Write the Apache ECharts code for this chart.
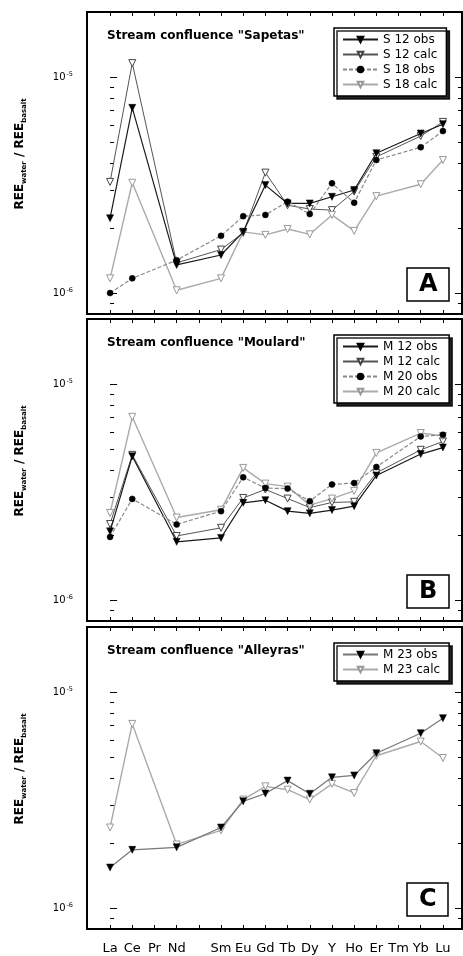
<!DOCTYPE html>
<html><head><meta charset="utf-8">
<script src="https://cdn.jsdelivr.net/npm/echarts@6/dist/echarts.min.js"></script>
<style>html,body{margin:0;padding:0;background:#fff}#c{width:463px;height:956px}</style>
</head><body><div id="c"></div>
<script>
const FONT = 'DejaVu Sans';
// x positions: index in this list (Pm is an unlabeled gap)
const elements = ['La','Ce','Pr','Nd','Pm','Sm','Eu','Gd','Tb','Dy','Y','Ho','Er','Tm','Yb','Lu'];
const hiddenLabels = ['Pm'];
const majorTicks = [1e-6, 1e-5];
const minorTicks = [9e-7, 2e-6, 3e-6, 4e-6, 5e-6, 6e-6, 7e-6, 8e-6, 9e-6, 2e-5];

// Panel A – Sapetas
const s12obs  = [2.22e-6, 7.2e-6, null, 1.35e-6, null, 1.50e-6, 1.92e-6, 3.16e-6, 2.60e-6, 2.60e-6, 2.79e-6, 3.0e-6, 4.44e-6, null, 5.48e-6, 6.05e-6];
const s12calc = [3.27e-6, 1.16e-5, null, 1.38e-6, null, 1.59e-6, 1.90e-6, 3.61e-6, 2.55e-6, 2.45e-6, 2.42e-6, 2.95e-6, 4.27e-6, null, 5.33e-6, 6.2e-6];
const s18obs  = [1.0e-6, 1.17e-6, null, 1.42e-6, null, 1.84e-6, 2.27e-6, 2.30e-6, 2.65e-6, 2.32e-6, 3.22e-6, 2.62e-6, 4.13e-6, null, 4.73e-6, 5.62e-6];
const s18calc = [1.17e-6, 3.24e-6, null, 1.03e-6, null, 1.17e-6, 1.92e-6, 1.86e-6, 1.98e-6, 1.87e-6, 2.30e-6, 1.94e-6, 2.81e-6, null, 3.19e-6, 4.13e-6];
// Panel B – Moulard
const m12obs  = [2.08e-6, 4.63e-6, null, 1.86e-6, null, 1.94e-6, 2.82e-6, 2.90e-6, 2.58e-6, 2.52e-6, 2.61e-6, 2.72e-6, 3.77e-6, null, 4.74e-6, 5.08e-6];
const m12calc = [2.25e-6, 4.7e-6, null, 1.98e-6, null, 2.16e-6, 2.97e-6, 3.25e-6, 2.95e-6, 2.68e-6, 2.83e-6, 2.85e-6, 3.88e-6, null, 4.96e-6, 5.42e-6];
const m20obs  = [1.96e-6, 2.94e-6, null, 2.24e-6, null, 2.58e-6, 3.70e-6, 3.30e-6, 3.28e-6, 2.87e-6, 3.43e-6, 3.48e-6, 4.13e-6, null, 5.72e-6, 5.82e-6];
const m20calc = [2.53e-6, 7.05e-6, null, 2.41e-6, null, 2.62e-6, 4.09e-6, 3.46e-6, 3.35e-6, 2.75e-6, 2.95e-6, 3.2e-6, 4.80e-6, null, 5.93e-6, 5.75e-6];
// Panel C – Alleyras
const m23obs  = [1.54e-6, 1.86e-6, null, 1.91e-6, null, 2.36e-6, 3.12e-6, 3.39e-6, 3.89e-6, 3.38e-6, 4.03e-6, 4.11e-6, 5.21e-6, null, 6.45e-6, 7.57e-6];
const m23calc = [2.36e-6, 7.12e-6, null, 1.97e-6, null, 2.29e-6, 3.18e-6, 3.66e-6, 3.53e-6, 3.18e-6, 3.76e-6, 3.41e-6, 5.07e-6, null, 5.90e-6, 4.95e-6];

const panelTitles = ['Stream confluence "Sapetas"', 'Stream confluence "Moulard"', 'Stream confluence "Alleyras"'];
const panelLetters = ['A', 'B', 'C'];
const panelSeries = [
  [['S 12 obs', s12obs, 'obs1'], ['S 12 calc', s12calc, 'calc1'], ['S 18 obs', s18obs, 'obs2'], ['S 18 calc', s18calc, 'calc2']],
  [['M 12 obs', m12obs, 'obs1'], ['M 12 calc', m12calc, 'calc1'], ['M 20 obs', m20obs, 'obs2'], ['M 20 calc', m20calc, 'calc2']],
  [['M 23 obs', m23obs, 'obs3'], ['M 23 calc', m23calc, 'calc2']]
];

const styles = {
  obs1:  {line:{color:'#1a1a1a', width:1.2}, symbol:'triangle', rot:180, size:7, item:{color:'#000', borderColor:'#000', borderWidth:0.5}},
  calc1: {line:{color:'#555', width:1}, symbol:'triangle', rot:180, size:7, item:{color:'#fff', borderColor:'#444', borderWidth:1}},
  obs2:  {line:{color:'#8a8a8a', width:1.2, type:[4,2]}, symbol:'circle', rot:0, size:6, item:{color:'#000', borderColor:'#000', borderWidth:0.5}},
  calc2: {line:{color:'#aaa', width:1.4}, symbol:'triangle', rot:180, size:7, item:{color:'#fff', borderColor:'#999', borderWidth:1}},
  obs3:  {line:{color:'#777', width:1.2}, symbol:'triangle', rot:180, size:7, item:{color:'#000', borderColor:'#000', borderWidth:0.5}}
};

const gridTops = [12, 319, 627];
const gridH = 302;
const Y_MIN = 8e-7, Y_MAX = 2e-5;

const grids = [], xAxes = [], yAxes = [], series = [], legends = [], titles = [];
const tickIdx = elements.map((e, i) => i);
const labelIdx = tickIdx.filter(i => hiddenLabels.indexOf(elements[i]) < 0);

gridTops.forEach((top, g) => {
  grids.push({left:87, width:375, top:top, height:gridH, show:true, borderColor:'#000', borderWidth:2, backgroundColor:'transparent'});
  ['bottom','top'].forEach(pos => {
    xAxes.push({
      gridIndex:g, type:'value', position:pos, min:-1.04, max:15.86,
      axisLine:{show:false}, splitLine:{show:false},
      axisTick:{show:true, inside:true, length:4, customValues:tickIdx, lineStyle:{color:'#000', width:1}},
      axisLabel:{show:(g === 2 && pos === 'bottom'), customValues:labelIdx, formatter:v => elements[Math.round(v)],
        fontFamily:FONT, fontSize:13, color:'#000', margin:13}
    });
  });
  ['left','right'].forEach(pos => {
    yAxes.push({
      gridIndex:g, type:'log', logBase:10, position:pos, min:Y_MIN, max:Y_MAX,
      axisLine:{show:false}, splitLine:{show:false}, minorTick:{show:false},
      axisTick:{show:true, inside:true, length:7, customValues:majorTicks, lineStyle:{color:'#000', width:1}},
      axisLabel:{show:pos === 'left', customValues:majorTicks, margin:14,
        formatter:v => '{b|10}{s|' + Math.round(Math.log10(v)) + '}',
        rich:{b:{fontFamily:FONT, fontSize:10, color:'#000'}, s:{fontFamily:FONT, fontSize:6.5, color:'#000', verticalAlign:'top', padding:[0,0,6,1]}}},
      name: pos === 'left' ? '{b|REE}{s|water}{b| / REE}{s|basalt}' : '',
      nameLocation:'middle', nameGap:59, nameRotate:90,
      nameTextStyle:{padding:[0,0,0,18], rich:{
        b:{fontFamily:FONT, fontSize:12, fontWeight:'bold', color:'#000', lineHeight:16},
        s:{fontFamily:FONT, fontSize:7, fontWeight:'bold', color:'#000', lineHeight:16, verticalAlign:'bottom', padding:[7,0,0,0]}}}
    });
    yAxes.push({
      gridIndex:g, type:'log', logBase:10, position:pos, min:Y_MIN, max:Y_MAX,
      axisLine:{show:false}, splitLine:{show:false}, minorTick:{show:false},
      axisTick:{show:true, inside:true, length:4, customValues:minorTicks, lineStyle:{color:'#000', width:1}},
      axisLabel:{show:false}
    });
  });

  const names = [];
  panelSeries[g].forEach(([name, vals, key]) => {
    const st = styles[key];
    names.push(name);
    const data = [];
    vals.forEach((v, i) => { if (v !== null) data.push([i, v]); });
    series.push({
      name:name, type:'line', xAxisIndex:2*g, yAxisIndex:4*g, data:data,
      symbol:st.symbol, symbolRotate:st.rot, symbolSize:st.size, showAllSymbol:true,
      lineStyle:st.line, itemStyle:st.item, z: key.startsWith('obs') ? 3 : 2
    });
  });

  legends.push({
    data:names, orient:'vertical', left:334, top:top + 16, itemGap:2, itemWidth:35, itemHeight:7,
    padding:[5,9,5,8], backgroundColor:'#fff', borderColor:'#000', borderWidth:1.5, borderRadius:0,
    shadowColor:'rgba(0,0,0,0.85)', shadowBlur:0, shadowOffsetX:3, shadowOffsetY:3,
    textStyle:{fontFamily:FONT, fontSize:12, color:'#000', lineHeight:13}, selectedMode:false
  });

  titles.push({text:panelTitles[g], left:107, top:top + 18, padding:0,
    textStyle:{fontFamily:FONT, fontSize:12, fontWeight:'bold', color:'#000'}});
  titles.push({text:panelLetters[g], left:407, top:top + 256, padding:[4,12,3,12],
    borderColor:'#000', borderWidth:1.5, backgroundColor:'#fff',
    textStyle:{fontFamily:FONT, fontSize:24, fontWeight:'bold', color:'#000', lineHeight:26}});
});

const chart = echarts.init(document.getElementById('c'), null, {renderer:'canvas'});
chart.setOption({
  animation:false, backgroundColor:'#fff',
  title:titles, legend:legends, grid:grids, xAxis:xAxes, yAxis:yAxes, series:series
});
</script></body></html>
